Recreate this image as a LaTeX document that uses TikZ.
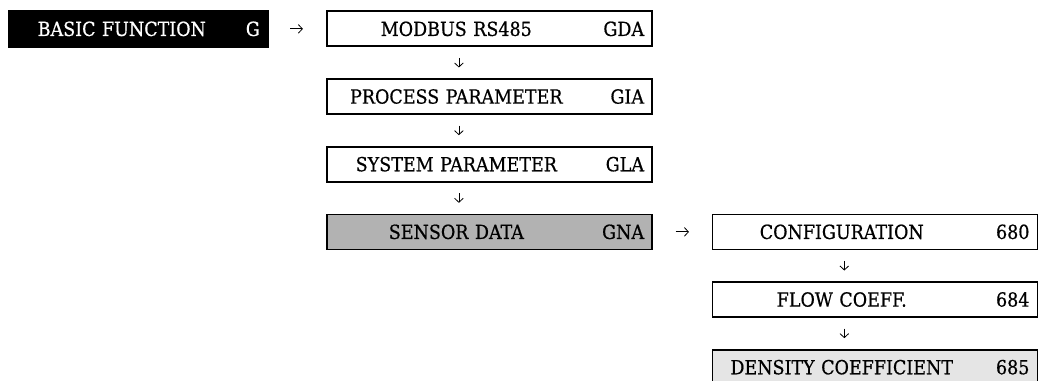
\documentclass[tikz,border=0pt]{standalone}
\usepackage{fontspec}
\setmainfont{DejaVu Serif Condensed}
\newfontfamily\menufont{DejaVu Serif Condensed}[FakeBold=0.6]
\usetikzlibrary{positioning, arrows.meta}

% menu text: name centred in the left part, code flush right
\newcommand{\menuitem}[3][0.785]{\makebox[#1\hsize][c]{#2}\hfill#3}

\begin{document}
\begin{tikzpicture}[
    x=0.75pt, y=0.75pt,
    node distance=23.2pt and 43.1pt,
    menubox/.style={rectangle, draw, line width=1.3pt, minimum width=243.75pt, minimum height=26.25pt, text width=231.75pt, inner xsep=6pt, inner ysep=0pt, font=\menufont\fontsize{14.6}{17}\selectfont},
    groupbox/.style={menubox, fill=black, text=white, minimum width=194.25pt, text width=182.25pt, minimum height=27pt},
    activebox/.style={menubox, fill=gray!60},
    lastbox/.style={menubox, fill=gray!20},
    stepline/.style={-{Straight Barb[length=3pt, width=6.5pt]}, line width=0.6pt, shorten <=8pt, shorten >=8pt}
]
\useasboundingbox (0,0) rectangle (1045,-381);

\node[groupbox, anchor=north west] (basic) at (8,-10) {\menuitem[0.864]{BASIC FUNCTION}{G}};
\node[menubox, right=of basic] (modbus) {\menuitem{MODBUS RS485}{GDA}};
\node[menubox, below=of modbus] (process) {\menuitem{PROCESS PARAMETER}{GIA}};
\node[menubox, below=of process] (system) {\menuitem{SYSTEM PARAMETER}{GLA}};
\node[activebox, below=of system] (sensor) {\menuitem{SENSOR DATA}{GNA}};
\node[menubox, right=44pt of sensor] (config) {\menuitem{CONFIGURATION}{680}};
\node[menubox, below=of config] (flow) {\menuitem{FLOW COEFF.}{684}};
\node[lastbox, below=of flow] (density) {\menuitem{DENSITY COEFFICIENT}{685}};

% into the groups
\draw[stepline, shorten <=16pt, shorten >=17.5pt] (basic) -- (modbus);
\draw[stepline, shorten <=17pt, shorten >=17pt] (sensor) -- (config);

% down the lists
\draw[stepline] ([xshift=-23pt]modbus.south) -- ([xshift=-23pt]process.north);
\draw[stepline] ([xshift=-23pt]process.south) -- ([xshift=-23pt]system.north);
\draw[stepline] ([xshift=-23pt]system.south) -- ([xshift=-23pt]sensor.north);
\draw[stepline] ([xshift=-23pt]config.south) -- ([xshift=-23pt]flow.north);
\draw[stepline] ([xshift=-23pt]flow.south) -- ([xshift=-23pt]density.north);

\end{tikzpicture}
\end{document}
